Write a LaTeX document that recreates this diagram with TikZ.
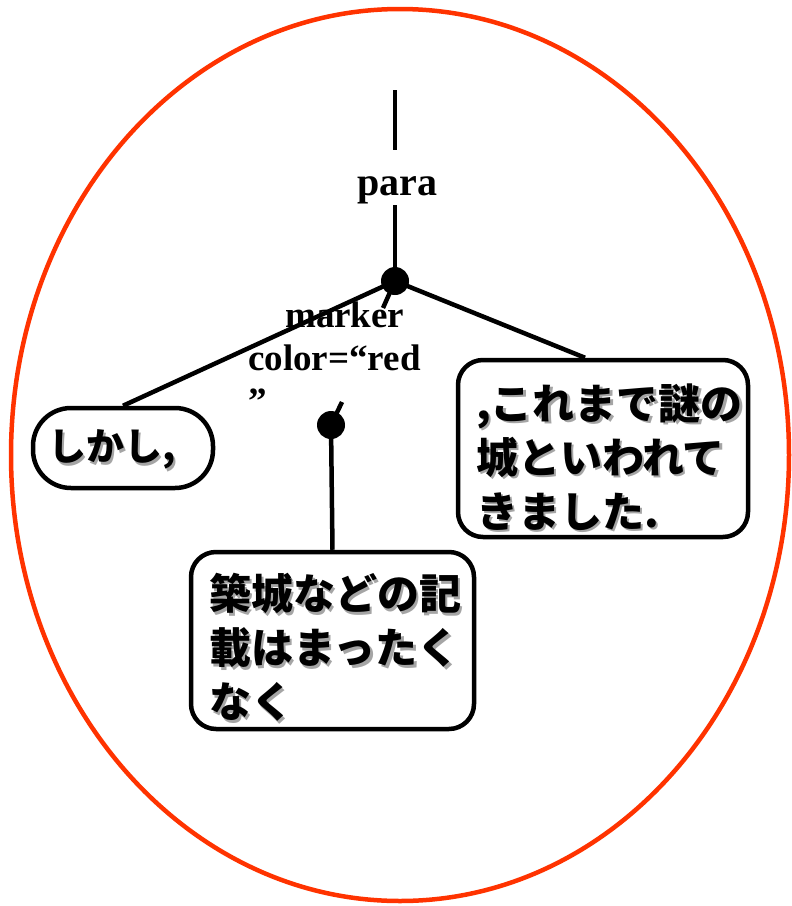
\documentclass[tikz,border=0pt]{standalone}
\usepackage{fontspec}
\setmainfont{Liberation Serif}
\newfontfamily\jp{Noto Sans CJK JP}
\usetikzlibrary{calc}
\definecolor{ringred}{RGB}{255,51,0}
\definecolor{shadowgray}{RGB}{165,165,165}
\newcommand{\jsh}[1]{\makebox[0pt][l]{\hspace{2.5pt}\raisebox{-2.5pt}{\textcolor{shadowgray}{#1}}}#1}
\tikzset{
  conn/.style={line width=4.5pt},
  dotnode/.style={circle,fill=black,inner sep=0pt,minimum size=28pt},
  jbox/.style={draw,line width=4.5pt,rounded corners=25pt,inner sep=0pt},
  jtext/.style={align=left,inner sep=0pt,font=\jp\bfseries\fontsize{42}{54}\selectfont},
  serif/.style={font=\bfseries\fontsize{37}{40}\selectfont,inner sep=0pt}
}
\begin{document}
\begin{tikzpicture}[x=1pt,y=-1pt]
\useasboundingbox (0,0) rectangle (792,906);
\draw[ringred,line width=4.5pt] (400,455) ellipse [x radius=389, y radius=446];
% top stem and label
\coordinate (p1) at (395,90);
\coordinate (p2) at (395,150);
\coordinate (p3) at (395,205);
\node[font=\bfseries\fontsize{40}{44}\selectfont,inner sep=0pt,anchor=base] (para) at (397,195) {para};
\node[dotnode] (d1) at (395,281) {};
\node[dotnode] (d2) at (331,425) {};
\coordinate (m1) at (383,308);
\coordinate (m2) at (342,402);
% boxes
\node[jbox,rounded corners=38pt,minimum width=180pt,minimum height=80pt] (lbox) at (123,448) {};
\node[jbox,minimum width=290pt,minimum height=177pt] (rbox) at (603,448.5) {};
\node[jbox,minimum width=283pt,minimum height=177pt] (bbox) at (332.5,640.5) {};
\node[jtext,font=\jp\bfseries\fontsize{38}{44}\selectfont] (ltext) at (112,451) {\jsh{しかし,}};
\node[jtext,anchor=west] (rtext) at (476,458) {\jsh{,これまで謎の}\\\jsh{城といわれて}\\\jsh{きました.}};
\node[jtext,anchor=west] (btext) at (209,649) {\jsh{築城などの記}\\\jsh{載はまったく}\\\jsh{なく}};
% marker label
\node[serif,anchor=base west] (mk1) at (285,327) {marker};
\node[serif,anchor=base west] (mk2) at (248,370) {color=“red};
\node[serif,anchor=base west] (mk3) at (248,413) {”};
% connectors
\draw[conn] (p1) -- (p2);
\draw[conn] (p3) -- (d1.center);
\draw[conn] (d1.center) -- (lbox.north);
\draw[conn] (d1.center) -- ([xshift=-18pt]rbox.north);
\draw[conn] (d1.center) -- (m1);
\draw[conn] (d2.center) -- (m2);
\draw[conn] (d2.center) -- (bbox.north);
\end{tikzpicture}
\end{document}
